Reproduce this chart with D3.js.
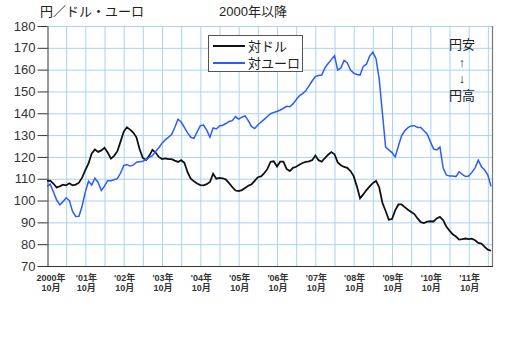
<!DOCTYPE html>
<meta charset="utf-8">
<style>
body { margin: 0; background: #fff; }
text { font-family: 'Liberation Sans', Arial, 'Noto Sans CJK JP', sans-serif; fill: #222; }
.grid line { stroke: #a9d1f7; stroke-width: 1; }
.grid path.domain { display: none; }
.yaxis path.domain { stroke: #333; }
.yaxis line { stroke: #333; }
.yaxis text { font-size: 13px; fill: #333; font-family: 'Liberation Sans', Arial, sans-serif; }
.xlab { font-size: 9px; font-weight: bold; fill: #333; }
</style>
<body>
<script src="https://cdn.jsdelivr.net/npm/d3@7"></script>
<script>

// monthly values from Jan 2000 (index 0) to Aug 2011
var usd = [109,109.1,107.8,106,106.5,107.3,107,107.9,107,107.3,108.2,110.5,
  114,117,121.6,123.4,122.3,123,124.2,122,119.2,120.5,122.5,126.9,
  131.5,133.6,132.5,131.2,129,123.5,119.5,118.6,120.5,123.2,122,120,
  119,119.3,119,119,118.3,117.7,118.5,117.3,113,110,108.8,107.8,
  107.1,107,107.5,108.5,112.3,110,110.4,110.2,109.6,108,106.2,104.6,
  104.3,104.8,105.8,106.8,107.4,109,110.7,111.1,112.5,114.5,117.8,118,
  115.6,117.8,117.8,114.5,113.5,115,115.5,116.4,117.2,117.7,118,118.5,
  120.6,118.5,117.8,119.5,121,122.2,121.2,117.5,116.2,115.4,115,113.5,
  111.2,106.5,101,102.8,104.8,106.5,108,109,106,99,95.2,91.2,
  91.5,95.5,98.2,98.2,97,95.8,94.8,93.8,91.8,90.1,89.7,90.3,
  90.5,90.4,91.8,92.5,91,88.1,86.2,84.5,83.5,82.1,82.3,82.6,
  82.3,82.5,81.8,80.6,80.3,78.8,77.5,77];

var eur = [106.5,107.5,104,100.3,98,99.5,101.3,100,95,92.7,92.8,97.5,
  104,108.8,107.1,110.2,108.3,104.6,106.6,109.1,109.1,109.5,110,112.5,
  116,116.5,115.8,116.2,117.6,117.8,118,118.8,119.8,120.6,122.5,124.2,
  126.3,127.8,129,130.3,133.5,137.3,136,133.5,131,129,128.5,131.5,
  134.3,134.6,132.3,129,133.3,132.8,134.2,134.5,135.3,136.2,136.6,138.5,
  137.3,138.2,138.8,136.6,134,133,134.6,136,137.2,138.5,139.8,140.4,
  140.8,141.5,142.3,143.2,143,144.3,146.2,148,149,150.3,152.6,154.8,
  156.8,157.3,157.5,160.8,162.8,164.6,166.4,159.8,160.8,164.2,163.2,159.8,
  158.4,157.8,157.5,161.5,162.5,166.2,168,165,155.5,140,124.5,123.2,
  122,120,125,129.7,132,133.4,134.2,134.3,133.5,133.5,132,130.5,
  127,123.7,123.2,124.5,115,111.7,111.2,111.3,111,113.2,112,111,
  111.2,112.9,115,118.5,115.5,114,111.7,106.5];

var yearLabels = ["2000年","'01年","'02年","'03年","'04年","'05年","'06年","'07年","'08年","'09年","'10年","'11年"];
var monthLabel = "10月";
var seriesNames = ["対ドル","対ユーロ"];
var yTicks = [70,80,90,100,110,120,130,140,150,160,170,180];

var W = 510, H = 342;
var pLeft = 47, pRight = 492, pTop = 26, pBottom = 266;

var svg = d3.select("body").append("svg")
    .attr("width", W).attr("height", H);

var x = d3.scaleLinear().domain([0, 139.3]).range([pLeft, pRight]);
var y = d3.scaleLinear().domain([70, 180]).range([pBottom, pTop]);

// grid
svg.append("g").attr("class", "grid")
    .attr("transform", "translate(0," + pBottom + ")")
    .call(d3.axisBottom(x).tickValues(d3.range(6, 139, 6)).tickSize(-(pBottom - pTop)).tickFormat(""));
svg.append("g").attr("class", "grid")
    .attr("transform", "translate(" + pLeft + ",0)")
    .call(d3.axisLeft(y).tickValues(yTicks.slice(1)).tickSize(-(pRight - pLeft)).tickFormat(""));

// right border
svg.append("line")
    .attr("x1", pRight + 0.5).attr("x2", pRight + 0.5)
    .attr("y1", pTop).attr("y2", pBottom)
    .attr("stroke", "#777").attr("stroke-width", 1.2);

// y axis
svg.append("g").attr("class", "yaxis")
    .attr("transform", "translate(" + (pLeft + 0.5) + ",0)")
    .call(d3.axisLeft(y).tickValues(yTicks).tickSize(10).tickSizeOuter(0).tickPadding(2));

// x axis line
svg.append("line")
    .attr("x1", pLeft).attr("x2", pRight + 1)
    .attr("y1", pBottom + 0.5).attr("y2", pBottom + 0.5)
    .attr("stroke", "#333");

// x labels
var xl = svg.append("g");
yearLabels.forEach(function(t, i) {
  var cx = x(i * 12) + (i == 0 ? 4 : 1);
  xl.append("text").attr("class", "xlab").attr("x", cx).attr("y", 281)
    .attr("text-anchor", "middle").text(t);
  xl.append("text").attr("class", "xlab").attr("x", cx).attr("y", 291)
    .attr("text-anchor", "middle").text(monthLabel);
});

// lines
var line = function(arr) {
  return d3.line().x(function(d, i) { return x(i); }).y(function(d) { return y(d); })(arr);
};
svg.append("path").attr("d", line(usd))
    .attr("fill", "none").attr("stroke", "#111").attr("stroke-width", 1.8);
svg.append("path").attr("d", line(eur))
    .attr("fill", "none").attr("stroke", "#2a5cff").attr("stroke-width", 1.5);

// titles
svg.append("text").attr("x", 40).attr("y", 16).style("font-size", "13px").text("円／ドル・ユーロ");
svg.append("text").attr("x", 219).attr("y", 16).style("font-size", "13px").text("2000年以降");

// legend
var lg = svg.append("g");
lg.append("rect").attr("x", 208.5).attr("y", 35.5).attr("width", 94).attr("height", 36)
    .attr("fill", "#fff").attr("stroke", "#555");
[["#111", 46], ["#2a5cff", 63]].forEach(function(c, i) {
  lg.append("line").attr("x1", 213).attr("x2", 245).attr("y1", c[1]).attr("y2", c[1])
    .attr("stroke", c[0]).attr("stroke-width", 2);
  lg.append("text").attr("x", 248).attr("y", c[1] + 5).style("font-size", "13px").text(seriesNames[i]);
});

// yen annotation
var ann = svg.append("g").attr("text-anchor", "middle");
ann.append("text").attr("x", 462).attr("y", 49).style("font-size", "13px").text("円安");
ann.append("text").attr("x", 462).attr("y", 67).style("font-size", "13px")
    .style("font-family", "'Liberation Sans', sans-serif").text("↑");
ann.append("text").attr("x", 462).attr("y", 83).style("font-size", "13px")
    .style("font-family", "'Liberation Sans', sans-serif").text("↓");
ann.append("text").attr("x", 462).attr("y", 100).style("font-size", "13px").text("円高");

</script>
</body>
